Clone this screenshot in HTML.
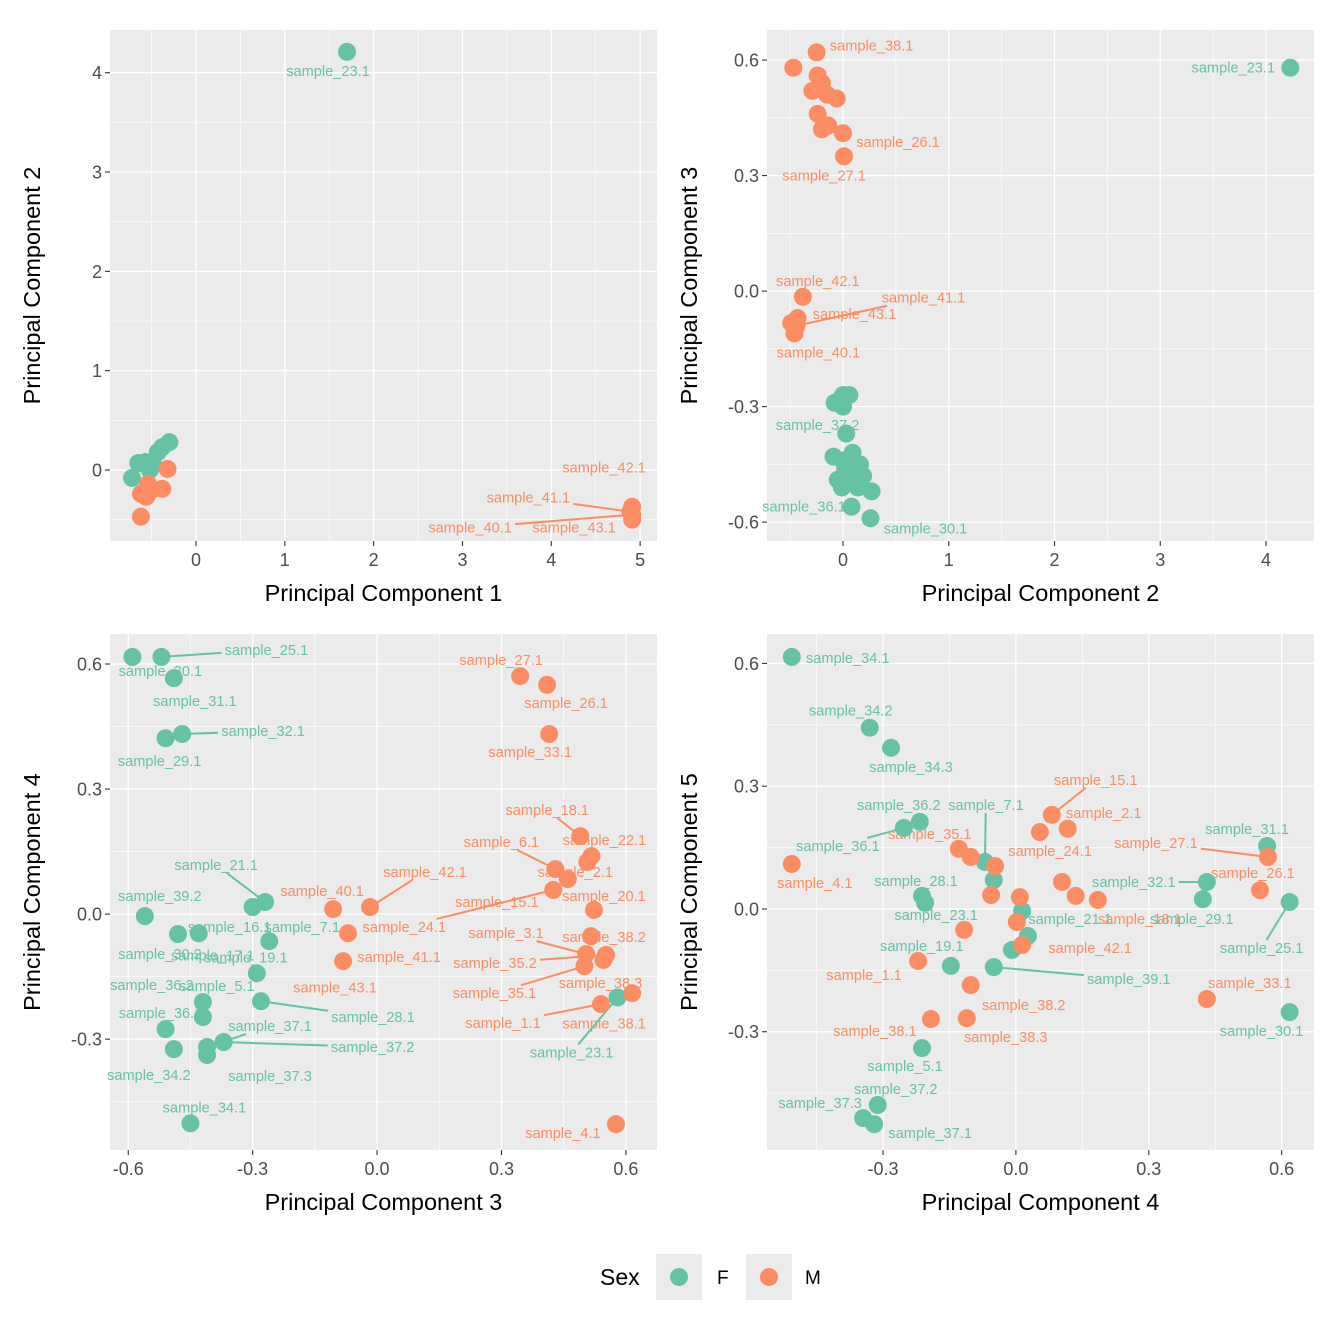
<!DOCTYPE html>
<html><head><meta charset="utf-8"><style>
html,body{margin:0;padding:0;background:#fff;}
svg{display:block;font-family:"Liberation Sans",Arial,sans-serif;}
</style></head><body>
<svg id="chart" width="1344" height="1344" viewBox="0 0 1344 1344"></svg>
<script>
const NS="http://www.w3.org/2000/svg";
const COLORS={F:"#66C2A5",M:"#FC8D62"};

// Panel 1: PC1 vs PC2
const p1x=[1.70,-0.72,-0.65,-0.57,-0.52,-0.43,-0.38,-0.30,-0.48,-0.62,-0.62,-0.56,-0.50,-0.38,-0.32,-0.54,4.91,4.89,4.91,4.91];
const p1y=[4.21,-0.08,0.07,0.08,0,0.18,0.23,0.28,0.05,-0.47,-0.24,-0.27,-0.2,-0.19,0.01,-0.14,-0.37,-0.42,-0.45,-0.50];
const p1s=["F","F","F","F","F","F","F","F","F","M","M","M","M","M","M","M","M","M","M","M"];
const p1lab=[[0,"sample_23.1",-19,19,0],[16,"sample_42.1",-28,-39,0],[17,"sample_41.1",-102,-14,1],[18,"sample_40.1",-162,13,1],[19,"sample_43.1",-58,8,0]];

// Panel 2: PC2 vs PC3
const p2x=[4.23,-0.47,-0.25,-0.24,-0.2,-0.29,-0.15,-0.06,-0.24,-0.2,0,0.01,-0.14,-0.38,-0.49,-0.43,-0.46,-0.44,0,0.06,-0.08,0,0.03,-0.09,0,0.09,0.16,0.19,0.02,0.14,-0.01,0.27,0.08,0.26,0.09,-0.05];
const p2y=[0.58,0.58,0.62,0.56,0.54,0.52,0.51,0.5,0.46,0.42,0.41,0.35,0.43,-0.015,-0.083,-0.07,-0.11,-0.09,-0.27,-0.27,-0.29,-0.3,-0.37,-0.43,-0.44,-0.42,-0.45,-0.48,-0.46,-0.51,-0.51,-0.52,-0.56,-0.59,-0.48,-0.49];
const p2s=["F","M","M","M","M","M","M","M","M","M","M","M","M","M","M","M","M","M","F","F","F","F","F","F","F","F","F","F","F","F","F","F","F","F","F","F"];
const p2lab=[[0,"sample_23.1",-57,0,0],[2,"sample_38.1",55,-7,0],[10,"sample_26.1",55,9,0],[11,"sample_27.1",-20,19,0],[13,"sample_42.1",15,-16,0],[17,"sample_41.1",127,-28,1],[15,"sample_43.1",57,-4,0],[16,"sample_40.1",24,19,0],[20,"sample_37.2",-17,22,0],[33,"sample_30.1",55,10,0],[30,"sample_36.1",-38,19,0]];

// Panel 3: PC3 vs PC4
const p3x=[-0.59,-0.52,-0.49,-0.51,-0.47,-0.56,-0.48,-0.43,-0.3,-0.27,-0.26,-0.29,-0.42,-0.28,-0.42,-0.51,-0.49,-0.41,-0.41,-0.37,-0.45,0.58,0.345,0.41,0.415,0.49,0.517,0.507,0.43,0.46,0.425,0.523,-0.106,-0.017,-0.07,-0.082,0.516,0.504,0.552,0.5,0.546,0.54,0.615,0.576];
const p3y=[0.617,0.617,0.566,0.422,0.432,-0.005,-0.048,-0.046,0.017,0.029,-0.065,-0.142,-0.211,-0.209,-0.247,-0.276,-0.324,-0.319,-0.338,-0.307,-0.502,-0.2,0.571,0.55,0.432,0.187,0.139,0.125,0.108,0.084,0.058,0.01,0.012,0.017,-0.046,-0.113,-0.053,-0.096,-0.098,-0.125,-0.11,-0.216,-0.19,-0.504];
const p3s=["F","F","F","F","F","F","F","F","F","F","F","F","F","F","F","F","F","F","F","F","F","F","M","M","M","M","M","M","M","M","M","M","M","M","M","M","M","M","M","M","M","M","M","M"];
const p3lab=[[1,"sample_25.1",105,-7,1],[0,"sample_30.1",28,14,0],[2,"sample_31.1",21,23,0],[4,"sample_32.1",81,-3,1],[3,"sample_29.1",-6,23,0],[22,"sample_27.1",-19,-16,0],[23,"sample_26.1",19,18,0],[24,"sample_33.1",-19,18,0],[25,"sample_18.1",-33,-26,1],[28,"sample_6.1",-54,-27,1],[26,"sample_22.1",13,-16,0],[27,"sample_2.1",-12,10,0],[31,"sample_20.1",10,-14,0],[29,"sample_15.1",-71,23,0],[30,"sample_24.1",-149,37,1],[36,"sample_38.2",13,1,0],[37,"sample_3.1",-80,-21,1],[38,"sample_35.2",-111,8,1],[39,"sample_35.1",-90,27,1],[40,"sample_38.3",-3,23,0],[41,"sample_1.1",-98,19,1],[42,"sample_38.1",-28,30,0],[21,"sample_23.1",-46,55,1],[43,"sample_4.1",-53,9,0],[32,"sample_40.1",-11,-18,0],[33,"sample_42.1",55,-35,1],[35,"sample_41.1",56,-4,0],[34,"sample_43.1",-13,54,0],[9,"sample_21.1",-49,-37,1],[5,"sample_39.2",15,-20,0],[8,"sample_16.1",-23,20,0],[10,"sample_7.1",33,-14,0],[6,"sample_30.2",-18,20,0],[7,"sample_17.1",14,22,0],[11,"sample_19.1",-11,-16,0],[12,"sample_5.1",14,-16,0],[14,"sample_36.2",-51,-32,0],[15,"sample_36.1",-5,-16,0],[13,"sample_28.1",112,16,1],[17,"sample_37.1",63,-21,1],[19,"sample_37.2",149,5,1],[16,"sample_34.2",-25,26,0],[18,"sample_37.3",63,21,0],[20,"sample_34.1",14,-16,0]];

// Panel 4: PC4 vs PC5
const p4x=[-0.506,-0.33,-0.282,-0.217,-0.253,-0.07,-0.05,-0.212,-0.205,0.014,0.027,-0.009,-0.05,-0.147,0.431,0.422,0.567,0.618,0.618,-0.212,-0.312,-0.345,-0.32,-0.506,-0.129,-0.102,-0.047,-0.056,0.054,0.117,0.081,0.104,0.135,0.185,0.009,0.002,-0.117,0.014,-0.221,-0.102,-0.192,-0.111,0.431,0.551,0.569];
const p4y=[0.616,0.443,0.394,0.213,0.198,0.115,0.071,0.032,0.015,-0.005,-0.066,-0.1,-0.142,-0.139,0.066,0.024,0.154,0.017,-0.252,-0.34,-0.479,-0.511,-0.526,0.11,0.147,0.127,0.105,0.034,0.188,0.196,0.23,0.066,0.032,0.022,0.029,-0.032,-0.051,-0.088,-0.127,-0.186,-0.269,-0.267,-0.22,0.046,0.127];
const p4s=["F","F","F","F","F","F","F","F","F","F","F","F","F","F","F","F","F","F","F","F","F","F","F","M","M","M","M","M","M","M","M","M","M","M","M","M","M","M","M","M","M","M","M","M","M"];
const p4lab=[[0,"sample_34.1",56,1,0],[1,"sample_34.2",-19,-17,0],[2,"sample_34.3",20,19,0],[3,"sample_36.2",-21,-17,0],[4,"sample_36.1",-66,18,1],[5,"sample_7.1",1,-57,1],[7,"sample_28.1",-6,-15,0],[8,"sample_23.1",11,12,0],[9,"sample_21.1",48,8,0],[12,"sample_39.1",135,12,1],[13,"sample_19.1",-29,-20,0],[14,"sample_32.1",-73,0,1],[15,"sample_29.1",-11,20,0],[16,"sample_31.1",-20,-17,0],[17,"sample_25.1",-28,46,1],[18,"sample_30.1",-28,19,0],[19,"sample_5.1",-17,18,0],[20,"sample_37.2",18,-16,0],[21,"sample_37.3",-43,-15,0],[22,"sample_37.1",56,9,0],[23,"sample_4.1",23,19,0],[24,"sample_35.1",-29,-15,0],[26,"sample_24.1",55,-15,0],[29,"sample_2.1",36,-16,0],[30,"sample_15.1",44,-35,1],[33,"sample_18.1",42,19,0],[37,"sample_42.1",68,3,0],[38,"sample_1.1",-54,14,0],[39,"sample_38.2",53,20,0],[40,"sample_38.1",-56,12,0],[41,"sample_38.3",39,19,0],[42,"sample_33.1",43,-16,0],[43,"sample_26.1",-7,-17,0],[44,"sample_27.1",-112,-14,1]];

const svg=document.getElementById("chart");
function mk(tag,attrs,parent){const e=document.createElementNS(NS,tag);for(const k in attrs)e.setAttribute(k,attrs[k]);(parent||svg).appendChild(e);return e;}

const panels=[
 {id:"pc1-pc2",L:110,R:657,T:30,B:541,xd:[-0.968,5.19],yd:[-0.715,4.43],xt:[0,1,2,3,4,5],xl:["0","1","2","3","4","5"],xm:[-0.5,0.5,1.5,2.5,3.5,4.5],yt:[0,1,2,3,4],yl:["0","1","2","3","4"],ym:[-0.5,0.5,1.5,2.5,3.5],xtitle:"Principal Component 1",ytitle:"Principal Component 2",x:p1x,y:p1y,s:p1s,lab:p1lab},
 {id:"pc2-pc3",L:767,R:1314,T:30,B:541,xd:[-0.719,4.454],yd:[-0.649,0.678],xt:[0,1,2,3,4],xl:["0","1","2","3","4"],xm:[-0.5,0.5,1.5,2.5,3.5],yt:[-0.6,-0.3,0,0.3,0.6],yl:["-0.6","-0.3","0.0","0.3","0.6"],ym:[-0.45,-0.15,0.15,0.45],xtitle:"Principal Component 2",ytitle:"Principal Component 3",x:p2x,y:p2y,s:p2s,lab:p2lab},
 {id:"pc3-pc4",L:110,R:657,T:634,B:1150,xd:[-0.644,0.675],yd:[-0.566,0.672],xt:[-0.6,-0.3,0,0.3,0.6],xl:["-0.6","-0.3","0.0","0.3","0.6"],xm:[-0.45,-0.15,0.15,0.45],yt:[-0.3,0,0.3,0.6],yl:["-0.3","0.0","0.3","0.6"],ym:[-0.45,-0.15,0.15,0.45],xtitle:"Principal Component 3",ytitle:"Principal Component 4",x:p3x,y:p3y,s:p3s,lab:p3lab},
 {id:"pc4-pc5",L:767,R:1314,T:634,B:1150,xd:[-0.562,0.673],yd:[-0.589,0.672],xt:[-0.3,0,0.3,0.6],xl:["-0.3","0.0","0.3","0.6"],xm:[-0.45,-0.15,0.15,0.45],yt:[-0.3,0,0.3,0.6],yl:["-0.3","0.0","0.3","0.6"],ym:[-0.45,-0.15,0.15,0.45],xtitle:"Principal Component 4",ytitle:"Principal Component 5",x:p4x,y:p4y,s:p4s,lab:p4lab}
];

panels.forEach(p=>{
 const g=mk("g",{});
 
 
 const sx=v=>p.L+(v-p.xd[0])/(p.xd[1]-p.xd[0])*(p.R-p.L);
 const sy=v=>p.B-(v-p.yd[0])/(p.yd[1]-p.yd[0])*(p.B-p.T);
 const bg=mk("rect",{x:p.L,y:p.T,width:p.R-p.L,height:p.B-p.T,fill:"#EBEBEB"},g);
 
 
 p.xm.forEach(v=>{if(v>p.xd[0]&&v<p.xd[1])mk("line",{x1:sx(v),x2:sx(v),y1:p.T,y2:p.B,stroke:"#fff","stroke-width":0.6},g);});
 p.ym.forEach(v=>{if(v>p.yd[0]&&v<p.yd[1])mk("line",{y1:sy(v),y2:sy(v),x1:p.L,x2:p.R,stroke:"#fff","stroke-width":0.6},g);});
 p.xt.forEach((v,i)=>{
  mk("line",{x1:sx(v),x2:sx(v),y1:p.T,y2:p.B,stroke:"#fff","stroke-width":1.3},g);
  mk("line",{x1:sx(v),x2:sx(v),y1:p.B,y2:p.B+5,stroke:"#333","stroke-width":1.1},g);
  const t=mk("text",{x:sx(v),y:p.B+25,"text-anchor":"middle","font-size":18,fill:"#4D4D4D"},g);t.textContent=p.xl[i];
  
  
 });
 p.yt.forEach((v,i)=>{
  mk("line",{y1:sy(v),y2:sy(v),x1:p.L,x2:p.R,stroke:"#fff","stroke-width":1.3},g);
  mk("line",{y1:sy(v),y2:sy(v),x1:p.L-5,x2:p.L,stroke:"#333","stroke-width":1.1},g);
  const t=mk("text",{x:p.L-8,y:sy(v)+6.5,"text-anchor":"end","font-size":18,fill:"#4D4D4D"},g);t.textContent=p.yl[i];
  
  
 });
 const xt=mk("text",{x:(p.L+p.R)/2,y:p.B+60,"text-anchor":"middle","font-size":23.5,fill:"#000"},g);xt.textContent=p.xtitle;
 
 
 const cy=(p.T+p.B)/2, cx=p.L-70;
 const yt=mk("text",{x:cx,y:cy,"text-anchor":"middle","font-size":23.5,fill:"#000",transform:`rotate(-90 ${cx} ${cy})`},g);yt.textContent=p.ytitle;
 
 
 p.lab.forEach(l=>{
  const i=l[0], px=sx(p.x[i]), py=sy(p.y[i]);
  const lx=px+l[2], ly=py+l[3];
  const col=COLORS[p.s[i]];
  if(l[4]){
   const hw=l[1].length*3.9+2, hh=8;
   const dx=px-lx, dy=py-ly;
   const t=Math.min(hw/Math.abs(dx||1e-6), hh/Math.abs(dy||1e-6));
   const s=mk("line",{x1:lx+dx*t,y1:ly+dy*t,x2:px,y2:py,stroke:col,"stroke-width":2},g);
   
   
  }
  const tx=mk("text",{x:lx,y:ly+5,"text-anchor":"middle","font-size":14.6,fill:col},g);
  tx.textContent=l[1];
  
  
 });
 p.x.forEach((v,i)=>{
  const c=mk("circle",{cx:sx(v),cy:sy(p.y[i]),r:9,fill:COLORS[p.s[i]]},g);
  
  
 });
});

const lg=mk("g",{});


const lt=mk("text",{x:600,y:1285,"font-size":23,fill:"#000"},lg);lt.textContent="Sex";


[["F",656,"#66C2A5",717],["M",746,"#FC8D62",805]].forEach(e=>{
 const kg=mk("g",{},lg);
 
 
 mk("rect",{x:e[1],y:1254,width:46,height:46,fill:"#EBEBEB"},kg);
 mk("circle",{cx:e[1]+23,cy:1277,r:9,fill:e[2]},kg);
 const t=mk("text",{x:e[3],y:1284,"font-size":19,fill:"#000"},kg);t.textContent=e[0];
});
</script>
</body></html>
